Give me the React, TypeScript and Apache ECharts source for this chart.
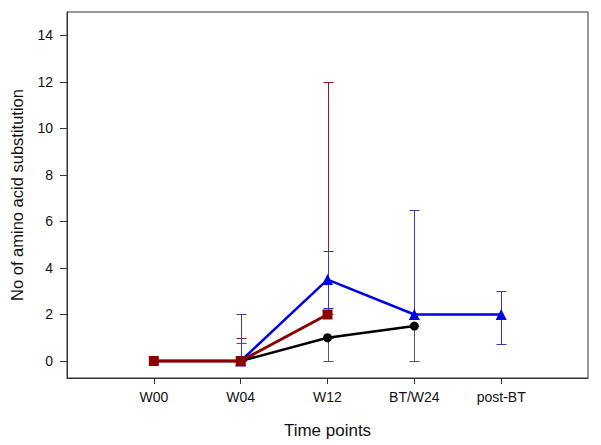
import React, { useEffect, useRef } from "react";
import * as echarts from "echarts";

const categories = ["W00", "W04", "W12", "BT/W24", "post-BT"];
const yTicks = [0, 2, 4, 6, 8, 10, 12, 14];

// series means (null = no point)
const blueValues = [null, 0, 3.5, 2, 2];
const redValues = [0, 0, 2, null, null];
const blackValues = [0, 0, 1, 1.5, null];

// error bars: [categoryIndex, low, high]
const blueErrors = [
  [1, 0, 2],
  [2, 2.26, 4.73],
  [3, 1.8, 6.5],
  [4, 0.75, 3],
];
const redErrors = [
  [1, 0, 1.0],
  [2, 2, 12],
];
const blackErrors = [
  [1, 0, 0.78],
  [2, 0, 1],
  [3, 0, 1.5],
];

const FONT = "Liberation Sans, Arial, sans-serif";

function toPairs(vals: (number | null)[]) {
  return vals.map((v, i) => (v === null ? null : [i, v])).filter((d) => d !== null);
}

function errorSeries(name: string, data: number[][], color: string) {
  return {
    type: "custom",
    name,
    z: 1,
    silent: true,
    data,
    renderItem: (params: any, api: any) => {
      const x = api.value(0);
      const lo = api.value(1);
      const hi = api.value(2);
      const pLo = api.coord([x, lo]);
      const pHi = api.coord([x, hi]);
      const cx = Math.round(pLo[0]) + 0.5;
      const yLo = Math.round(pLo[1]) + 0.5;
      const yHi = Math.round(pHi[1]) + 0.5;
      const hw = 5;
      const style = { stroke: color, lineWidth: 1 };
      return {
        type: "group",
        children: [
          { type: "line", shape: { x1: cx, y1: yLo, x2: cx, y2: yHi }, style },
          { type: "line", shape: { x1: cx - hw, y1: yHi, x2: cx + hw, y2: yHi }, style },
          { type: "line", shape: { x1: cx - hw, y1: yLo, x2: cx + hw, y2: yLo }, style },
        ],
      };
    },
  };
}

export default function App() {
  const ref = useRef<HTMLDivElement>(null);
  useEffect(() => {
    const chart = echarts.init(ref.current!, null, { renderer: "svg" });
    chart.setOption({
      animation: false,
      backgroundColor: "#ffffff",
      grid: {
        left: 66,
        right: 13,
        top: 12,
        bottom: 67,
        show: true,
        borderColor: "#333",
        borderWidth: 1,
      },
      xAxis: {
        type: "value",
        min: -1,
        max: 5,
        interval: 1,
        name: "Time points",
        nameLocation: "middle",
        nameGap: 44,
        nameTextStyle: { fontFamily: FONT, fontSize: 17, color: "#111" },
        splitLine: { show: false },
        axisLine: { onZero: false, lineStyle: { color: "#333", width: 1 } },
        axisTick: {
          show: true,
          length: 6,
          customValues: [0, 1, 2, 3, 4],
          lineStyle: { color: "#333" },
        },
        axisLabel: {
          customValues: [0, 1, 2, 3, 4],
          margin: 12,
          fontFamily: FONT,
          fontSize: 14,
          color: "#111",
          formatter: (v: number) => categories[v] ?? "",
        },
      },
      yAxis: {
        type: "value",
        min: -0.73,
        max: 15,
        name: "No of amino acid substitution",
        nameLocation: "middle",
        nameGap: 42,
        nameTextStyle: { fontFamily: FONT, fontSize: 16.5, color: "#111" },
        splitLine: { show: false },
        axisLine: { show: true, onZero: false, lineStyle: { color: "#333", width: 1 } },
        axisTick: {
          show: true,
          length: 7,
          customValues: yTicks,
          lineStyle: { color: "#333" },
        },
        axisLabel: {
          customValues: yTicks,
          margin: 14,
          fontFamily: FONT,
          fontSize: 14,
          color: "#111",
        },
      },
      series: [
        errorSeries("blackErr", blackErrors, "#555555"),
        errorSeries("redErr", redErrors, "#8e1c1c"),
        errorSeries("blueErr", blueErrors, "#3a3aa8"),
        {
          type: "line",
          name: "black",
          z: 3,
          data: toPairs(blackValues),
          symbol: "circle",
          symbolSize: 9,
          itemStyle: { color: "#000000" },
          lineStyle: { color: "#000000", width: 2.5 },
        },
        {
          type: "line",
          name: "blue",
          z: 4,
          data: toPairs(blueValues),
          symbol: "triangle",
          symbolSize: 11,
          itemStyle: { color: "#0000e6" },
          lineStyle: { color: "#0000e6", width: 2.5 },
        },
        {
          type: "line",
          name: "red",
          z: 5,
          data: toPairs(redValues),
          symbol: "rect",
          symbolSize: 10,
          itemStyle: { color: "#8b0000" },
          lineStyle: { color: "#8b0000", width: 3 },
        },
      ],
    });
    return () => chart.dispose();
  }, []);
  return <div ref={ref} style={{ width: 601, height: 445, position: "absolute", left: 0, top: 0 }} />;
}
